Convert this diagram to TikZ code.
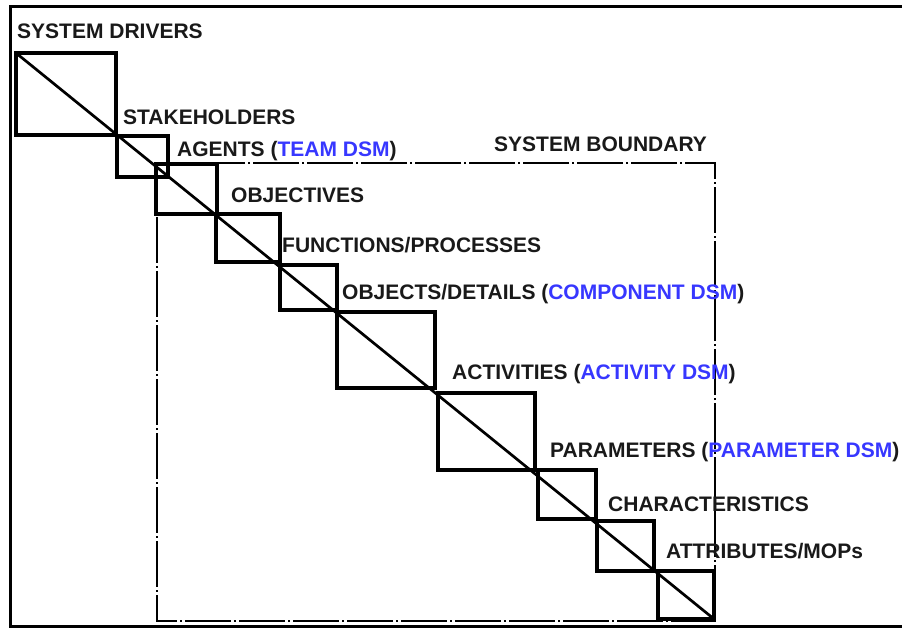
\documentclass[tikz,border=0pt]{standalone}
\usepackage{fontspec}
\setmainfont{Liberation Sans}
\definecolor{dsmblue}{RGB}{55,55,255}
\begin{document}
\begin{tikzpicture}[x=1pt,y=-1pt,
  lbl/.style={anchor=base west,inner sep=0pt,font=\bfseries\fontsize{21}{24}\selectfont,text=black!90},
  dsmbox/.style={draw=black,line width=3.8pt},
  diag/.style={draw=black,line width=2.7pt},
  bound/.style={draw=black,line width=2pt,dash pattern=on 46pt off 3pt on 2pt off 3pt},
  frame/.style={draw=black,line width=3pt}]
\useasboundingbox (0,0) rectangle (902,628);
% outer frame (right side lies outside the picture)
\draw[frame] (902,6.5) -- (10.5,6.5) -- (10.5,626.5) -- (902,626.5);
% system boundary
\draw[bound] (157,163) rectangle (715,621);
% DSM boxes
\draw[dsmbox] (16,53) rectangle (116,135);
\draw[dsmbox] (117,136) rectangle (168,177);
\draw[dsmbox] (156,164) rectangle (217,214);
\draw[dsmbox] (216,214) rectangle (280,262);
\draw[dsmbox] (280,265) rectangle (337,310);
\draw[dsmbox] (337,312) rectangle (435,388);
\draw[dsmbox] (438,393) rectangle (535,470);
\draw[dsmbox] (538,470) rectangle (596,519);
\draw[dsmbox] (597,521) rectangle (654,571);
\draw[dsmbox] (658,571) rectangle (714,619);
% diagonal
\coordinate (d0) at (16,53);
\coordinate (d1) at (714,619);
\draw[diag] (d0) -- (d1);
% labels
\node[lbl] (sd) at (17,39) {SYSTEM DRIVERS};
\node[lbl] (sh) at (123,125) {STAKEHOLDERS};
\node[lbl] (ag) at (177,157) {AGENTS (\textcolor{dsmblue}{TEAM DSM})};
\node[lbl] (sb) at (494,152) {SYSTEM BOUNDARY};
\node[lbl] (ob) at (231,203) {OBJECTIVES};
\node[lbl] (fp) at (282,253) {FUNCTIONS/PROCESSES};
\node[lbl] (od) at (342,299) {OBJECTS/DETAILS (\textcolor{dsmblue}{COMPONENT DSM})};
\node[lbl] (ac) at (452,379) {ACTIVITIES (\textcolor{dsmblue}{ACTIVITY DSM})};
\node[lbl] (pa) at (550,457) {PARAMETERS (\textcolor{dsmblue}{PARAMETER DSM})};
\node[lbl] (ch) at (608,511) {CHARACTERISTICS};
\node[lbl] (at) at (666,558) {ATTRIBUTES/MOPs};
\end{tikzpicture}
\end{document}
